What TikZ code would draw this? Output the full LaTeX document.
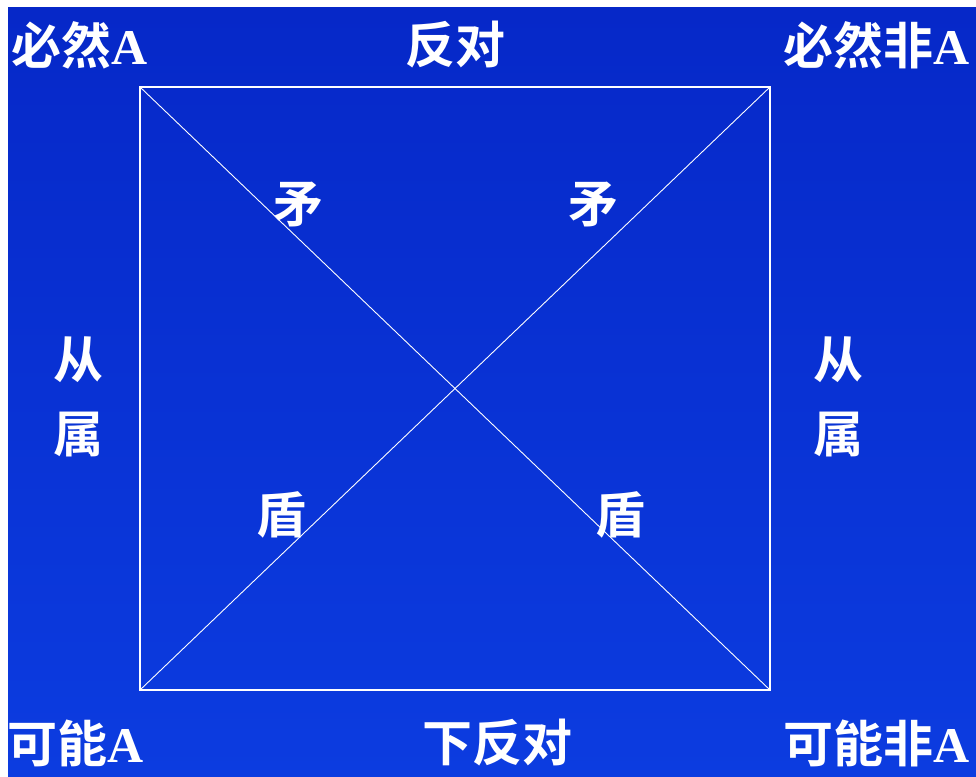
\documentclass[tikz,border=0pt]{standalone}
\usepackage{fontspec}
\setmainfont{Liberation Serif}
\newfontfamily\cjk{Noto Sans CJK SC Bold}
\definecolor{bgtop}{RGB}{6,40,200}
\definecolor{bgbot}{RGB}{12,60,224}
\tikzset{
  lbl/.style={text=white, font=\fontsize{50}{50}\selectfont\cjk, inner sep=0pt},
  sq/.style={draw=white, line width=1.2pt}
}
\newcommand{\latA}{{\rmfamily\bfseries A}}
\begin{document}
\begin{tikzpicture}[x=1pt,y=-1pt]
\useasboundingbox (0,0) rectangle (976,776);
\fill[white] (0,0) rectangle (976,776);
\shade[top color=bgtop, bottom color=bgbot] (8,8) rectangle (976,776);
\coordinate (tl) at (140,87);
\coordinate (tr) at (770,87);
\coordinate (br) at (770,690);
\coordinate (bl) at (140,690);
\draw[sq] (tl) -- (tr) -- (br) -- (bl) -- cycle;
\draw[sq, line width=0.9pt] (tl) -- (br);
\draw[sq, line width=0.9pt] (tr) -- (bl);
\node[lbl, anchor=west] (nA) at (11,45) {必然\latA};
\node[lbl] (fd) at (455,45) {反对};
\node[lbl, anchor=east] (nnA) at (970,45) {必然非\latA};
\node[lbl] (c1) at (78,360) {从};
\node[lbl] (s1) at (78,435) {属};
\node[lbl] (c2) at (838,360) {从};
\node[lbl] (s2) at (838,435) {属};
\node[lbl] (m1) at (298,205) {矛};
\node[lbl] (m2) at (593,205) {矛};
\node[lbl] (d1) at (281,515) {盾};
\node[lbl] (d2) at (620,515) {盾};
\node[lbl, anchor=west] (pA) at (7,743) {可能\latA};
\node[lbl] (xfd) at (497,743) {下反对};
\node[lbl, anchor=east] (pnA) at (970,743) {可能非\latA};
\end{tikzpicture}
\end{document}
